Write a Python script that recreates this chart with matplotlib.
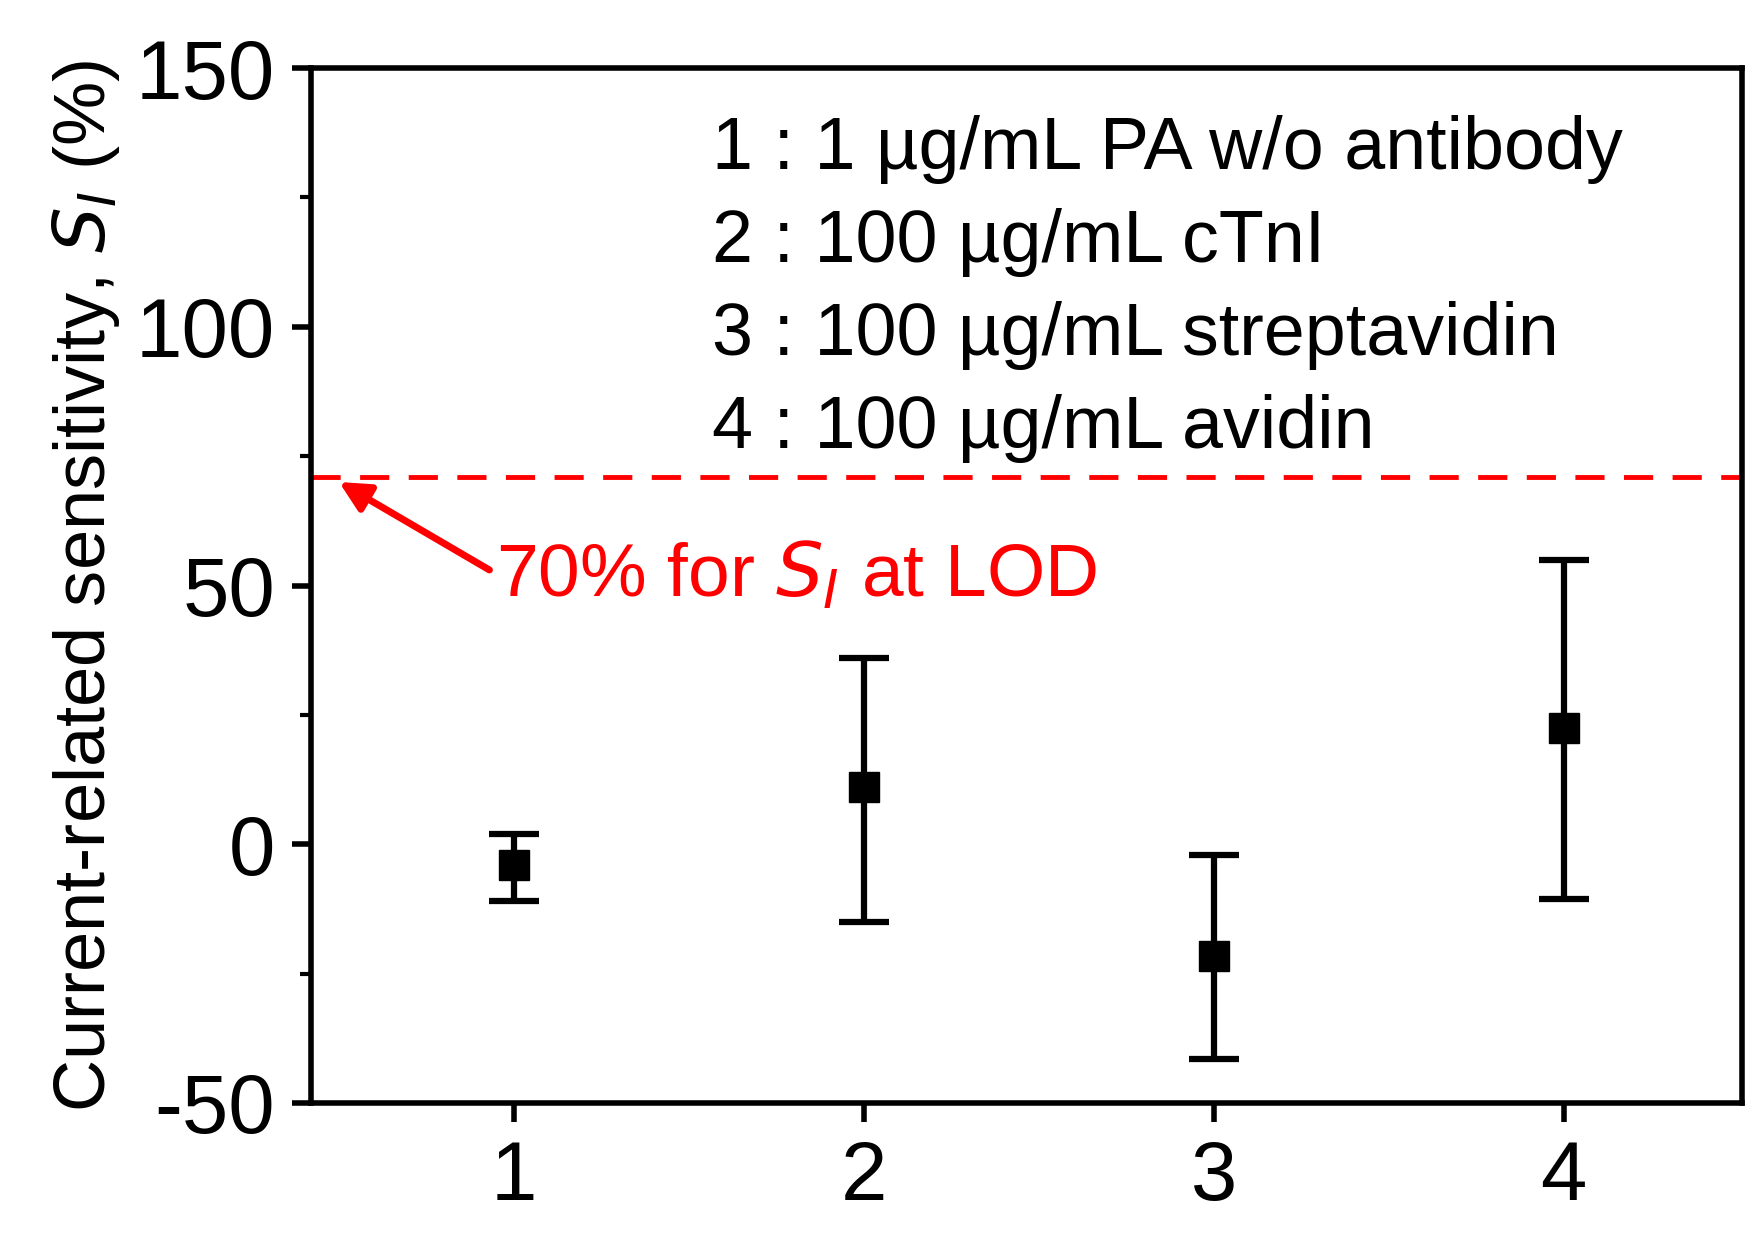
import matplotlib
matplotlib.use("Agg")
import matplotlib.pyplot as plt
from matplotlib.ticker import MultipleLocator

plt.rcParams['font.family'] = ['Liberation Sans', 'DejaVu Sans']
plt.rcParams['axes.unicode_minus'] = False

samples = [1, 2, 3, 4]
sens = [-4, 11, -21.5, 22.5]
err_low = [7, 26, 20, 33]
err_high = [6, 25, 19.5, 32.5]
lod = 71
labels = ["1 : 1 \u00b5g/mL PA w/o antibody",
          "2 : 100 \u00b5g/mL cTnI",
          "3 : 100 \u00b5g/mL streptavidin",
          "4 : 100 \u00b5g/mL avidin"]

fig = plt.figure(figsize=(17.65, 12.37), dpi=100)
ax = fig.add_axes([311 / 1765, 1 - 1103 / 1237, (1742 - 311) / 1765, (1103 - 68) / 1237])

ax.errorbar(samples, sens, yerr=[err_low, err_high], fmt='s', color='black',
            ms=22, elinewidth=4.5, capsize=18, capthick=4.5)
ax.axhline(lod, color='red', ls=(0, (6, 4)), lw=3.5)

ax.set_xlim(0.42, 4.51)
ax.set_ylim(-50, 150)
ax.set_xticks(samples)
ax.yaxis.set_major_locator(MultipleLocator(50))
ax.yaxis.set_minor_locator(MultipleLocator(25))
ax.tick_params(axis='both', which='major', direction='out', length=14, width=4, labelsize=60, pad=12)
ax.tick_params(axis='y', which='minor', direction='out', length=8, width=3)
for s in ax.spines.values():
    s.set_linewidth(4)

ax.set_ylabel("Current-related sensitivity, $S_I$ (%)", fontsize=52, labelpad=10)

ax.text(0.28, 0.955, "\n".join(labels), transform=ax.transAxes, fontsize=53,
        va='top', ha='left', linespacing=1.45)

ax.annotate("", xy=(0.5, lod - 1), xytext=(0.93, 53),
            arrowprops=dict(arrowstyle='-|>', color='red', lw=5, mutation_scale=45, shrinkA=0, shrinkB=0))
ax.text(0.95, 52, "70% for $S_I$ at LOD", fontsize=54, color='red', va='center', ha='left')

fig.savefig("out.png", dpi=100)
